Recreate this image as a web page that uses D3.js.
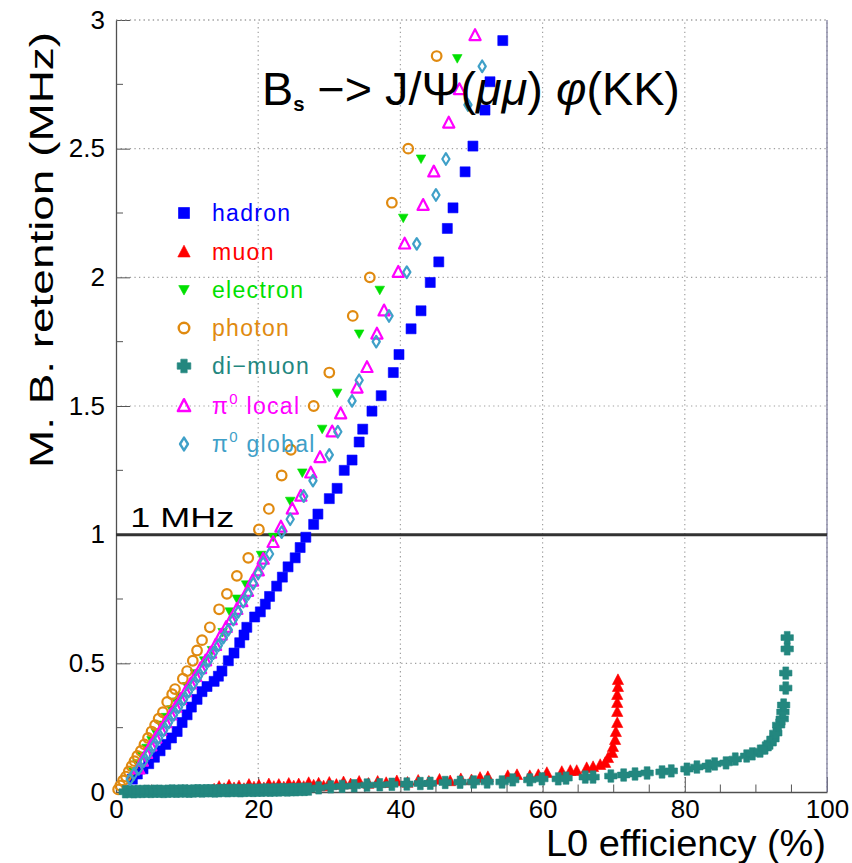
<!DOCTYPE html>
<html>
<head>
<meta charset="utf-8">
<script src="https://cdn.jsdelivr.net/npm/d3@7"></script>
<style>
  html, body { margin: 0; padding: 0; background: #fff; }
  svg { display: block; font-family: "Liberation Sans", Arial, Helvetica, sans-serif; }
</style>
</head>
<body>
<svg id="chart" width="852" height="863"></svg>
<script>
// L0 efficiency (%) vs minimum-bias retention (MHz), one array of [eff, rate] per trigger
const hadron = [
  [2.3,0.05],[3.0,0.07],[3.8,0.09],[4.6,0.11],[5.4,0.135],[6.2,0.16],[7.0,0.185],[7.8,0.21],
  [8.6,0.235],[9.3,0.27],[10.0,0.30],[10.6,0.33],[11.4,0.36],[12.1,0.39],[12.8,0.41],[13.8,0.43],
  [14.4,0.45],[14.9,0.47],[15.8,0.51],[16.6,0.54],[17.4,0.58],[18.0,0.61],[18.4,0.64],[19.5,0.68],
  [20.3,0.70],[21.0,0.73],[21.6,0.76],[22.6,0.80],[23.4,0.835],[24.2,0.875],[25.2,0.91],[25.9,0.95],
  [26.7,0.99],[27.8,1.04],[28.4,1.08],[30.0,1.14],[31.1,1.18],[32.1,1.25],[33.2,1.29],[34.2,1.36],
  [34.7,1.41],[36.0,1.48],[37.3,1.54],[39.0,1.63],[39.8,1.70],[41.5,1.80],[42.9,1.87],[44.2,1.98],
  [45.4,2.06],[46.6,2.19],[47.4,2.27],[49.1,2.41],[50.2,2.51],[51.9,2.65],[52.6,2.76],[54.4,2.92]
];
const muon = [
  [13.8,0.010],[14.5,0.020],[15.2,0.012],[15.9,0.025],[16.6,0.015],[17.3,0.022],[18.0,0.012],[18.7,0.028],
  [19.4,0.018],[20.1,0.025],[20.8,0.015],[21.5,0.030],[22.2,0.020],[22.9,0.028],[23.6,0.018],[24.3,0.032],
  [25.0,0.022],[25.7,0.030],[26.4,0.020],[27.1,0.035],[27.8,0.025],[28.5,0.033],[29.2,0.022],[30.0,0.036],
  [31.0,0.028],[32.0,0.038],[33.0,0.030],[34.2,0.040],[35.5,0.032],[36.8,0.040],[38.0,0.035],[39.5,0.042],
  [41.0,0.036],[42.5,0.044],[44.0,0.040],[45.5,0.048],[47.0,0.042],[48.5,0.050],[50.0,0.046],[51.2,0.055],
  [52.3,0.058],[55.1,0.062],[56.4,0.066],[58.2,0.062],[59.4,0.066],[60.6,0.074],[62.7,0.078],[63.9,0.082],
  [64.8,0.082],[66.2,0.093],[67.1,0.097],[68.1,0.105],[68.8,0.113],[69.2,0.132],[69.8,0.152],[69.9,0.175],
  [70.2,0.202],[70.3,0.233],[70.5,0.268],[70.5,0.311],[70.5,0.346],[70.5,0.377],[70.6,0.408],[70.6,0.435]
];
const electron = [
  [2.4,0.08],[3.0,0.11],[3.6,0.14],[4.3,0.17],[5.0,0.20],[5.6,0.23],[6.3,0.26],[7.0,0.29],
  [7.8,0.32],[8.5,0.35],[9.0,0.37],[10.0,0.41],[11.1,0.46],[12.4,0.51],[13.5,0.55],[15.0,0.62],
  [16.0,0.70],[17.0,0.75],[18.3,0.805],[20.4,0.92],[22.1,0.99],[24.5,1.13],[26.2,1.24],[29.0,1.41],
  [31.1,1.55],[34.2,1.78],[37.1,1.95],[40.4,2.23],[42.9,2.46],[48.0,2.85]
];
const photon = [
  [0.3,0.010],[0.6,0.025],[1.0,0.045],[1.4,0.060],[1.8,0.080],[2.2,0.100],[2.6,0.120],[3.0,0.140],
  [3.5,0.160],[4.0,0.185],[4.5,0.210],[5.0,0.235],[5.5,0.260],[6.0,0.285],[6.6,0.310],[7.2,0.35],
  [7.9,0.38],[8.3,0.40],[9.4,0.44],[10.0,0.47],[10.8,0.51],[11.4,0.55],[12.1,0.59],[13.2,0.64],
  [14.5,0.71],[15.6,0.77],[17.0,0.84],[18.6,0.91],[20.1,1.02],[21.5,1.10],[23.3,1.23],[24.6,1.33],
  [27.8,1.50],[30.0,1.63],[33.3,1.85],[35.7,2.00],[38.8,2.29],[41.1,2.50],[45.1,2.86]
];
const dimuon = [
  [1.3,0.001],[1.9,0.002],[2.5,0.001],[3.1,0.002],[3.7,0.002],[4.3,0.003],[4.9,0.002],[5.5,0.003],
  [6.1,0.003],[6.7,0.002],[7.3,0.003],[7.9,0.004],[8.5,0.003],[9.1,0.004],[9.7,0.004],[10.3,0.003],
  [10.9,0.004],[11.5,0.005],[12.1,0.004],[12.7,0.005],[13.3,0.005],[13.9,0.004],[14.5,0.005],[15.1,0.006],
  [15.7,0.005],[16.3,0.006],[16.9,0.006],[17.5,0.005],[18.1,0.006],[18.7,0.007],[19.3,0.006],[19.9,0.007],
  [20.5,0.007],[21.1,0.008],[21.7,0.007],[22.3,0.008],[22.9,0.008],[23.5,0.009],[24.1,0.008],[24.7,0.009],
  [25.3,0.009],[25.9,0.010],[26.5,0.010],[27.1,0.011],[28.5,0.016],[30.2,0.020],[31.8,0.022],[33.5,0.024],
  [35.3,0.027],[37.1,0.028],[38.8,0.030],[40.9,0.031],[42.8,0.033],[44.2,0.034],[46.3,0.037],[48.4,0.038],
  [50.3,0.039],[52.2,0.039],[54.3,0.039],[55.8,0.047],[58.2,0.047],[59.9,0.051],[62.2,0.051],[63.3,0.054],
  [66.0,0.058],[67.1,0.058],[69.6,0.062],[71.4,0.066],[73.0,0.070],[74.7,0.074],[76.8,0.078],[78.1,0.082],
  [80.3,0.089],[81.7,0.097],[83.3,0.101],[84.2,0.109],[85.8,0.113],[87.1,0.128],[88.7,0.140],[89.5,0.148],
  [90.6,0.159],[91.3,0.171],[92.0,0.190],[92.4,0.206],[92.8,0.229],[93.2,0.260],[93.7,0.284],[93.8,0.311],
  [93.9,0.338],[94.2,0.404],[94.2,0.462],[94.4,0.556],[94.4,0.600]
];
const pi0Local = [
  [3.2,0.09],[3.7,0.12],[4.3,0.15],[4.9,0.18],[5.6,0.21],[6.3,0.24],[7.0,0.27],[7.7,0.30],
  [8.4,0.33],[9.1,0.36],[9.8,0.39],[10.5,0.42],[11.2,0.45],[11.9,0.48],[12.6,0.51],[13.3,0.54],
  [14.0,0.57],[14.8,0.61],[15.5,0.64],[16.2,0.67],[17.0,0.71],[17.7,0.74],[18.5,0.78],[19.2,0.82],
  [20.0,0.86],[20.7,0.905],[22.1,0.97],[23.2,1.03],[24.8,1.10],[26.0,1.15],[27.4,1.24],[28.7,1.30],
  [30.4,1.40],[31.6,1.47],[33.9,1.57],[35.3,1.65],[36.7,1.78],[37.7,1.87],[39.7,2.02],[40.6,2.13],
  [43.2,2.28],[44.7,2.41],[46.8,2.60],[48.3,2.73],[50.5,2.94]
];
const pi0Global = [
  [2.0,0.05],[2.5,0.07],[3.2,0.09],[3.9,0.12],[4.6,0.15],[5.3,0.18],[6.0,0.21],[6.7,0.24],
  [7.4,0.27],[8.1,0.30],[8.8,0.33],[9.5,0.36],[10.2,0.39],[10.9,0.42],[11.6,0.45],[12.3,0.48],
  [13.0,0.51],[13.7,0.54],[14.4,0.57],[15.1,0.60],[15.8,0.63],[16.5,0.67],[17.2,0.70],[17.9,0.74],
  [18.6,0.77],[19.3,0.81],[20.0,0.85],[20.7,0.89],[21.6,0.925],[23.3,1.01],[24.5,1.06],[26.4,1.15],
  [27.7,1.21],[30.0,1.31],[31.2,1.40],[33.2,1.52],[34.2,1.60],[36.6,1.75],[38.4,1.85],[40.9,2.02],
  [42.3,2.13],[45.0,2.32],[46.4,2.46],[49.5,2.67],[51.5,2.82]
];

const xTicks = [0, 20, 40, 60, 80, 100];
const yTicks = [0, 0.5, 1, 1.5, 2, 2.5, 3];
const thresholdRate = 1;

const colors = {
  hadron: "#0000ff", muon: "#ff0000", electron: "#00e000", photon: "#e08a10",
  dimuon: "#23877f", pi0Local: "#ff00ff", pi0Global: "#3fa0c8"
};

// marker shapes, centred on (0,0)
const shapes = {
  square:   { d: "M-5,-5h10v10h-10z", fill: true },
  triUp:    { d: "M0,-6.2L5.6,4.5L-5.6,4.5Z", fill: true },
  triDown:  { d: "M0,4.6L4.8,-4L-4.8,-4Z", fill: true },
  circle:   { d: "M4.8,0A4.8,4.8 0 1,1 -4.8,0A4.8,4.8 0 1,1 4.8,0Z", fill: false },
  cross:    { d: "M-2.9,-6.2h5.8v3.3h3.3v5.8h-3.3v3.3h-5.8v-3.3h-3.3v-5.8h3.3z", fill: true },
  openTri:  { d: "M0,-6.2L5.6,4.6L-5.6,4.6Z", fill: false },
  diamond:  { d: "M0,-5.8L3.6,0L0,5.8L-3.6,0Z", fill: false }
};

const series = [
  { key: "hadron",    label: ["hadron"],          data: hadron,    shape: "square" },
  { key: "muon",      label: ["muon"],            data: muon,      shape: "triUp" },
  { key: "electron",  label: ["electron"],        data: electron,  shape: "triDown" },
  { key: "photon",    label: ["photon"],          data: photon,    shape: "circle" },
  { key: "dimuon",    label: ["di\u2212muon"],    data: dimuon,    shape: "cross" },
  { key: "pi0Local",  label: ["\u03c0", "0", " local"],  data: pi0Local,  shape: "openTri" },
  { key: "pi0Global", label: ["\u03c0", "0", " global"], data: pi0Global, shape: "diamond" }
];

const svg = d3.select("#chart");
const x = d3.scaleLinear().domain([0, 100]).range([116, 827]);
const y = d3.scaleLinear().domain([0, 3]).range([792, 20]);

// dotted grid
const grid = svg.append("g").attr("stroke", "#a0a0a0").attr("stroke-width", 1.2)
  .attr("stroke-dasharray", "1.3,3.3");
grid.selectAll("line.gx").data(xTicks.slice(1)).join("line")
  .attr("x1", d => x(d)).attr("x2", d => x(d)).attr("y1", y(0)).attr("y2", y(3));
grid.selectAll("line.gy").data(yTicks.slice(1)).join("line")
  .attr("x1", x(0)).attr("x2", x(100)).attr("y1", d => y(d)).attr("y2", d => y(d));

// axes with inward ticks
const axisFont = 26;
const xMinor = d3.range(0, 101, 5).filter(v => v % 20 !== 0);
const yMinor = d3.range(0, 3.01, 0.25).filter(v => Math.abs(v * 2 - Math.round(v * 2)) > 1e-6);

const xAxis = svg.append("g").attr("transform", `translate(0,${y(0)})`)
  .call(d3.axisBottom(x).tickValues(xTicks).tickSizeInner(-15).tickSizeOuter(0).tickPadding(8)
    .tickFormat(d3.format("d")));
xAxis.append("g").selectAll("line").data(xMinor).join("line")
  .attr("x1", d => x(d)).attr("x2", d => x(d)).attr("y1", 0).attr("y2", -7.5)
  .attr("stroke", "#555");
const yAxis = svg.append("g").attr("transform", `translate(${x(0)},0)`)
  .call(d3.axisLeft(y).tickValues(yTicks).tickSizeInner(-14).tickSizeOuter(0).tickPadding(24)
    .tickFormat(d => d === 0 ? "0" : d3.format("")(d)));
yAxis.append("g").selectAll("line").data(yMinor).join("line")
  .attr("x1", 0).attr("x2", 7).attr("y1", d => y(d)).attr("y2", d => y(d))
  .attr("stroke", "#555");
[xAxis, yAxis].forEach(g => {
  g.select(".domain").attr("stroke", "#505050").attr("stroke-width", 1.3);
  g.selectAll(".tick line").attr("stroke", "#555");
  g.selectAll(".tick text").attr("font-size", axisFont).attr("fill", "#000")
    .attr("font-family", "Liberation Sans, Arial, sans-serif");
});
yAxis.selectAll(".tick text").attr("dx", "13");

// upper (dotted) and right frame
svg.append("line").attr("x1", x(0)).attr("x2", x(100)).attr("y1", y(3)).attr("y2", y(3))
  .attr("stroke", "#a0a0a0").attr("stroke-width", 1.2).attr("stroke-dasharray", "1.3,3.3");
svg.append("line").attr("x1", x(100)).attr("x2", x(100)).attr("y1", y(0)).attr("y2", y(3))
  .attr("stroke", "#8080a0").attr("stroke-width", 1.3);

// 1 MHz threshold
svg.append("line").attr("x1", x(0)).attr("x2", x(100))
  .attr("y1", y(thresholdRate)).attr("y2", y(thresholdRate))
  .attr("stroke", "#333").attr("stroke-width", 3);
svg.append("text").attr("x", x(2)).attr("y", y(thresholdRate) - 8)
  .attr("font-size", 28).attr("textLength", 104).attr("lengthAdjust", "spacingAndGlyphs")
  .text(thresholdRate + " MHz");

// markers
function drawMarkers(sel, s) {
  const sh = shapes[s.shape];
  const c = colors[s.key];
  sel.attr("d", sh.d)
    .attr("fill", sh.fill ? c : "none")
    .attr("stroke", c)
    .attr("stroke-width", sh.fill ? 0.6 : 2.2)
    .attr("stroke-linejoin", "round");
}
series.forEach(s => {
  svg.append("g").attr("class", "series-" + s.key)
    .selectAll("path").data(s.data).join("path")
    .attr("transform", d => `translate(${x(d[0])},${y(d[1])})`)
    .call(drawMarkers, s);
});

// legend
const legend = svg.append("g");
const legendRows = [213, 252, 290, 328, 366, 406, 444];
series.forEach((s, i) => {
  const g = legend.append("g").attr("transform", `translate(184,${legendRows[i]})`);
  g.append("path").attr("transform", "scale(1.1)").call(drawMarkers, s);
  const t = g.append("text").attr("x", 28).attr("y", 8).attr("font-size", 23)
    .attr("letter-spacing", 1.3).attr("fill", colors[s.key]);
  if (s.label.length === 1) {
    t.text(s.label[0]);
  } else {
    t.append("tspan").text(s.label[0]);
    t.append("tspan").attr("font-size", 15).attr("dy", -10).text(s.label[1]);
    t.append("tspan").attr("dy", 10).text(s.label[2]);
  }
});

// title
const title = svg.append("text").attr("x", 262).attr("y", 105).attr("font-size", 46)
  .attr("fill", "#000");
title.append("tspan").text("B");
title.append("tspan").attr("font-size", 20).attr("font-weight", "bold").attr("dy", 6).text("s");
title.append("tspan").attr("dy", -6).text(" \u2212> J/\u03a8(");
title.append("tspan").attr("font-style", "italic").text("\u03bc\u03bc");
title.append("tspan").text(") ");
title.append("tspan").attr("font-style", "italic").text("\u03c6");
title.append("tspan").text("(KK)");
{
  const w = title.node().getComputedTextLength();
  const target = 418;
  title.attr("transform", `translate(262,0) scale(${target / w},1) translate(-262,0)`);
}

// axis titles
svg.append("text").attr("transform", "translate(53,250) rotate(-90)")
  .attr("text-anchor", "middle").attr("font-size", 34)
  .attr("textLength", 436).attr("lengthAdjust", "spacingAndGlyphs")
  .text("M. B. retention (MHz)");
svg.append("text").attr("x", 826).attr("y", 856).attr("text-anchor", "end")
  .attr("font-size", 37).attr("textLength", 280).attr("lengthAdjust", "spacingAndGlyphs")
  .text("L0 efficiency (%)");
</script>
</body>
</html>
